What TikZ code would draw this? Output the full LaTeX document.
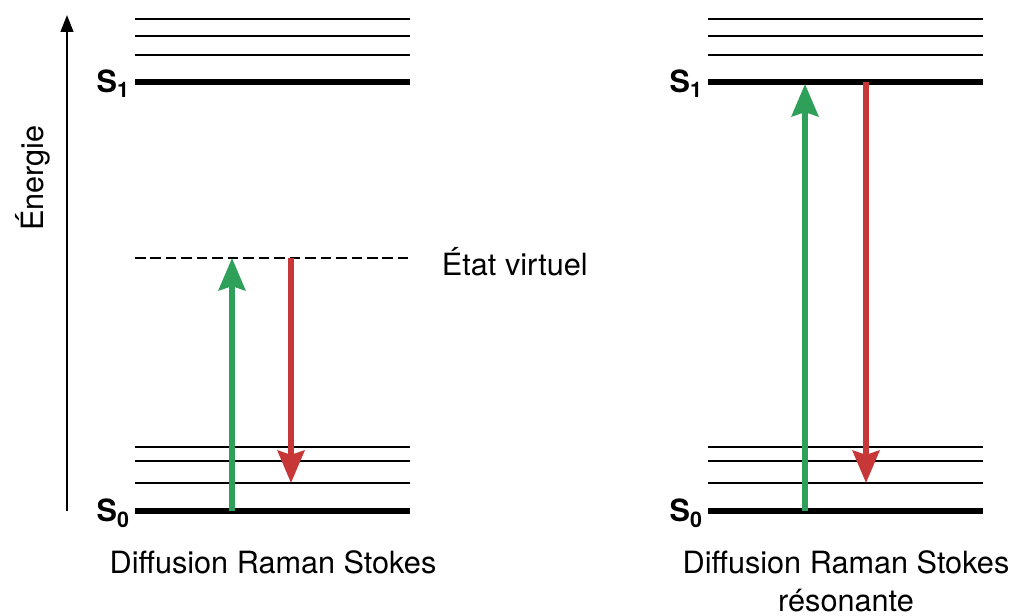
\documentclass[tikz,border=0pt]{standalone}
\usepackage{fontspec}
\setmainfont{TeX Gyre Heros}
\usetikzlibrary{arrows.meta}
\definecolor{vert}{RGB}{46,160,90}
\definecolor{rouge}{RGB}{200,55,55}
\tikzset{
    niveau/.style={line width=1.4pt},
    etat/.style={line width=3.6pt},
    virtuel/.style={line width=1.4pt, dash pattern=on 7.5pt off 3.5pt},
    absorption/.style={vert, line width=4pt, -{Stealth[width=19pt,length=23pt,inset=3pt]}},
    emission/.style={rouge, line width=4pt, -{Stealth[width=19pt,length=23pt,inset=3pt]}},
    texte/.style={font=\fontsize{21.8}{27}\selectfont},
    etiquette/.style={font=\fontsize{21.8}{27}\selectfont\bfseries, anchor=east, inner sep=0pt}
}
\begin{document}
\begin{tikzpicture}[x=0.025cm, y=-0.025cm]
    \useasboundingbox (0,0) rectangle (1016,616);

    % energy axis
    \coordinate (basaxe) at (67,511);
    \coordinate (hautaxe) at (67,15);
    \draw[line width=1.4pt, -{Triangle[width=9pt,length=12pt]}] (basaxe) -- (hautaxe);
    \node[texte, rotate=90] (energie) at (33,178) {Énergie};

    % left diagram: levels
    \foreach \y in {19,36,55,447,461,483} {
        \draw[niveau] (135,\y) -- (410,\y);
    }
    \draw[etat] (135,82) -- (410,82);
    \draw[etat] (135,511) -- (410,511);
    \node[etiquette] (s1g) at (130,84) {S\textsubscript{1}};
    \node[etiquette] (s0g) at (130,513) {S\textsubscript{0}};

    % virtual state
    \draw[virtuel] (135,258) -- (408,258);
    \node[texte, anchor=west] (virt) at (437,262) {État virtuel};

    % left arrows
    \coordinate (vg0) at (232,511);
    \coordinate (vg1) at (232,258);
    \coordinate (rg0) at (291,258);
    \coordinate (rg1) at (291,483);
    \draw[absorption] (vg0) -- (vg1);
    \draw[emission] (rg0) -- (rg1);
    \node[texte] (titreg) at (273,562) {Diffusion Raman Stokes};

    % right diagram: levels
    \foreach \y in {19,36,55,447,461,483} {
        \draw[niveau] (708,\y) -- (983,\y);
    }
    \draw[etat] (708,82) -- (983,82);
    \draw[etat] (708,511) -- (983,511);
    \node[etiquette] (s1d) at (703,84) {S\textsubscript{1}};
    \node[etiquette] (s0d) at (703,513) {S\textsubscript{0}};

    % right arrows
    \coordinate (vd0) at (805,511);
    \coordinate (vd1) at (805,84);
    \coordinate (rd0) at (866,82);
    \coordinate (rd1) at (866,483);
    \draw[absorption] (vd0) -- (vd1);
    \draw[emission] (rd0) -- (rd1);
    \node[texte, align=center] (titred) at (846,581) {Diffusion Raman Stokes\\résonante};
\end{tikzpicture}
\end{document}
